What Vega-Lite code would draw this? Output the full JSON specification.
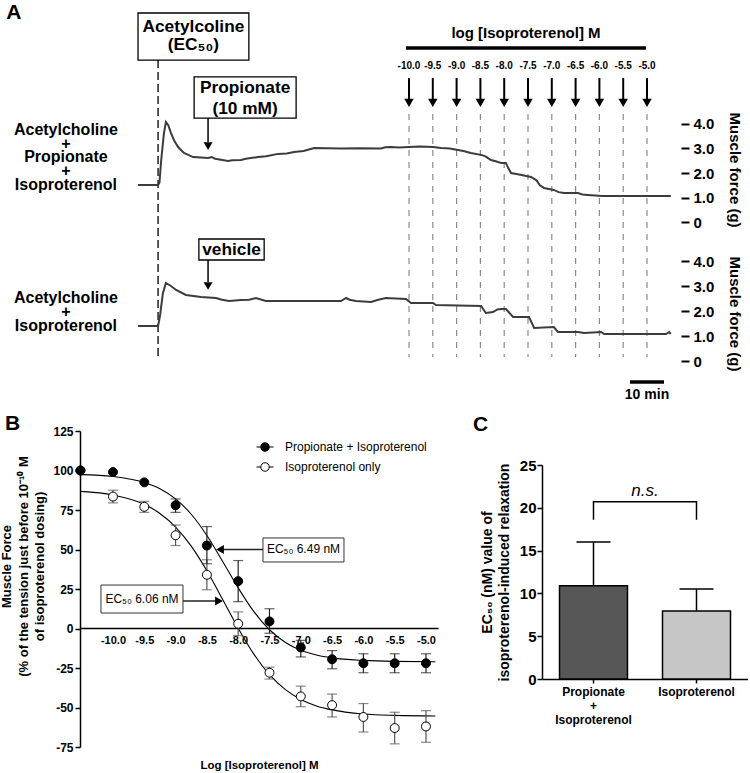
{
  "$schema": "https://vega.github.io/schema/vega-lite/v6.json",
  "padding": 0,
  "background": "white",
  "config": {
    "font": "Liberation Sans",
    "view": {"stroke": null},
    "locale": {"number": {"decimal": ".", "thousands": ",", "grouping": [3], "currency": ["$", ""], "minus": "-"}},
    "axis": {"grid": false, "labelOverlap": false, "labelColor": "black", "titleColor": "black", "domainColor": "black", "tickColor": "black", "labelFont": "Liberation Sans", "titleFont": "Liberation Sans"},
    "legend": {"labelFont": "Liberation Sans", "labelColor": "black"},
    "text": {"font": "Liberation Sans", "color": "black"},
    "title": {"font": "Liberation Sans", "color": "black"}
  },
  "datasets": {
    "trace1": [
      {"t":40.3,"g":1.51},{"t":46.2,"g":1.51},{"t":46.6,"g":1.6},{"t":47.1,"g":2.5},{"t":47.9,"g":3.6},{"t":48.5,"g":4.08},{"t":49.2,"g":3.95},{"t":50.0,"g":3.63},{"t":51.0,"g":3.3},{"t":52.1,"g":3.06},{"t":53.8,"g":2.82},{"t":56.5,"g":2.65},{"t":60.9,"g":2.61},{"t":62,"g":2.65},{"t":63,"g":2.58},{"t":66.8,"g":2.49},{"t":68,"g":2.52},{"t":70.6,"g":2.53},{"t":72,"g":2.58},{"t":75.6,"g":2.65},{"t":78,"g":2.68},{"t":81.5,"g":2.78},{"t":84,"g":2.8},{"t":86.2,"g":2.86},{"t":89,"g":2.9},{"t":92.1,"g":3.02},{"t":100,"g":3.0},{"t":105,"g":3.01},{"t":111.8,"g":3.0},{"t":113,"g":3.05},{"t":114.7,"g":3.06},{"t":117,"g":3.04},{"t":120,"g":3.06},{"t":123,"g":3.08},{"t":127.1,"g":3.06},{"t":129.4,"g":3.02},{"t":132,"g":3.0},{"t":134.4,"g":2.94},{"t":136,"g":2.9},{"t":138.2,"g":2.82},{"t":141.5,"g":2.73},{"t":142.5,"g":2.68},{"t":144.1,"g":2.53},{"t":145.5,"g":2.48},{"t":147.1,"g":2.41},{"t":148.5,"g":2.41},{"t":149.2,"g":2.2},{"t":150,"g":2.0},{"t":152,"g":1.95},{"t":155.9,"g":1.84},{"t":157.5,"g":1.7},{"t":158.5,"g":1.5},{"t":159.7,"g":1.39},{"t":162.6,"g":1.31},{"t":164,"g":1.22},{"t":165.6,"g":1.18},{"t":169.7,"g":1.18},{"t":171,"g":1.12},{"t":172.6,"g":1.1},{"t":176.8,"g":1.06},{"t":197,"g":1.06}
    ],
    "trace2": [
      {"t":40.3,"g":1.4},{"t":46.2,"g":1.4},{"t":46.8,"g":1.84},{"t":47.6,"g":2.7},{"t":48.5,"g":3.12},{"t":50,"g":3.0},{"t":51.5,"g":2.84},{"t":54.4,"g":2.64},{"t":58.8,"g":2.56},{"t":63.2,"g":2.52},{"t":65,"g":2.45},{"t":67.1,"g":2.4},{"t":70.6,"g":2.44},{"t":73,"g":2.45},{"t":75,"g":2.52},{"t":77.9,"g":2.4},{"t":100,"g":2.4},{"t":101.5,"g":2.52},{"t":102.5,"g":2.45},{"t":104.4,"g":2.4},{"t":108.8,"g":2.36},{"t":111,"g":2.45},{"t":113.2,"g":2.52},{"t":119.1,"g":2.48},{"t":120.6,"g":2.32},{"t":127.1,"g":2.32},{"t":127.9,"g":2.24},{"t":141.2,"g":2.2},{"t":142.6,"g":1.92},{"t":144.7,"g":1.96},{"t":146,"g":2.06},{"t":147.1,"g":2.08},{"t":148.5,"g":2.08},{"t":150.6,"g":1.76},{"t":155.3,"g":1.76},{"t":156.8,"g":1.32},{"t":162.6,"g":1.36},{"t":163.8,"g":1.16},{"t":169.7,"g":1.16},{"t":171.5,"g":1.12},{"t":176.5,"g":1.16},{"t":177.4,"g":1.08},{"t":195.6,"g":1.08},{"t":196.5,"g":1.16},{"t":197,"g":1.08}
    ],
    "doses": [
      {"t":120,"lab":"-10.0"},{"t":127,"lab":"-9.5"},{"t":134,"lab":"-9.0"},{"t":141,"lab":"-8.5"},{"t":148,"lab":"-8.0"},{"t":155,"lab":"-7.5"},{"t":162,"lab":"-7.0"},{"t":169,"lab":"-6.5"},{"t":176,"lab":"-6.0"},{"t":183,"lab":"-5.5"},{"t":190,"lab":"-5.0"}
    ],
    "pts": [
      {"series":"Isoproterenol only","x":-10.52,"y":100,"lo":100,"hi":100},
      {"series":"Isoproterenol only","x":-10.0,"y":83.5,"lo":79.5,"hi":87.5},
      {"series":"Isoproterenol only","x":-9.5,"y":77,"lo":73.5,"hi":80.5},
      {"series":"Isoproterenol only","x":-9.0,"y":59,"lo":52.5,"hi":65.5},
      {"series":"Isoproterenol only","x":-8.5,"y":34,"lo":24.5,"hi":43.5},
      {"series":"Isoproterenol only","x":-8.0,"y":3,"lo":-4.5,"hi":10.5},
      {"series":"Isoproterenol only","x":-7.5,"y":-28,"lo":-32,"hi":-24.5},
      {"series":"Isoproterenol only","x":-7.0,"y":-43,"lo":-49.5,"hi":-36.5},
      {"series":"Isoproterenol only","x":-6.5,"y":-48.5,"lo":-56,"hi":-41.5},
      {"series":"Isoproterenol only","x":-6.0,"y":-56,"lo":-65.5,"hi":-47.5},
      {"series":"Isoproterenol only","x":-5.5,"y":-63,"lo":-73,"hi":-53},
      {"series":"Isoproterenol only","x":-5.0,"y":-62,"lo":-72,"hi":-52},
      {"series":"Propionate + Isoproterenol","x":-10.52,"y":100,"lo":100,"hi":100},
      {"series":"Propionate + Isoproterenol","x":-10.0,"y":99,"lo":99,"hi":99},
      {"series":"Propionate + Isoproterenol","x":-9.5,"y":92.5,"lo":92.5,"hi":92.5},
      {"series":"Propionate + Isoproterenol","x":-9.0,"y":78,"lo":73.5,"hi":82},
      {"series":"Propionate + Isoproterenol","x":-8.5,"y":52.5,"lo":41,"hi":64.5},
      {"series":"Propionate + Isoproterenol","x":-8.0,"y":30,"lo":17,"hi":43},
      {"series":"Propionate + Isoproterenol","x":-7.5,"y":4.5,"lo":-3,"hi":12.5},
      {"series":"Propionate + Isoproterenol","x":-7.0,"y":-12,"lo":-18,"hi":-7.5},
      {"series":"Propionate + Isoproterenol","x":-6.5,"y":-19.5,"lo":-25.5,"hi":-14},
      {"series":"Propionate + Isoproterenol","x":-6.0,"y":-22,"lo":-28,"hi":-16},
      {"series":"Propionate + Isoproterenol","x":-5.5,"y":-22,"lo":-28,"hi":-16},
      {"series":"Propionate + Isoproterenol","x":-5.0,"y":-22,"lo":-28,"hi":-16}
    ],
    "fit": [
      {"series":"P","x":-10.52,"y":97.4},{"series":"P","x":-10.0,"y":96.2},{"series":"P","x":-9.5,"y":92.4},{"series":"P","x":-9.25,"y":88.5},{"series":"P","x":-9.0,"y":82.0},{"series":"P","x":-8.75,"y":72.3},{"series":"P","x":-8.5,"y":58.9},{"series":"P","x":-8.25,"y":42.6},{"series":"P","x":-8.0,"y":25.7},{"series":"P","x":-7.75,"y":10.7},{"series":"P","x":-7.5,"y":-0.8},{"series":"P","x":-7.25,"y":-8.7},{"series":"P","x":-7.0,"y":-13.8},{"series":"P","x":-6.75,"y":-16.8},{"series":"P","x":-6.5,"y":-18.6},{"series":"P","x":-6.0,"y":-20.2},{"series":"P","x":-5.5,"y":-20.8},{"series":"P","x":-4.85,"y":-21.0},
      {"series":"I","x":-10.52,"y":86.8},{"series":"I","x":-10.0,"y":84.5},{"series":"I","x":-9.5,"y":78.6},{"series":"I","x":-9.25,"y":72.8},{"series":"I","x":-9.0,"y":64.2},{"series":"I","x":-8.75,"y":52.1},{"series":"I","x":-8.5,"y":36.5},{"series":"I","x":-8.25,"y":18.5},{"series":"I","x":-8.0,"y":0.2},{"series":"I","x":-7.75,"y":-16.2},{"series":"I","x":-7.5,"y":-29.2},{"series":"I","x":-7.25,"y":-38.5},{"series":"I","x":-7.0,"y":-44.9},{"series":"I","x":-6.75,"y":-49.0},{"series":"I","x":-6.5,"y":-51.5},{"series":"I","x":-6.0,"y":-54.1},{"series":"I","x":-5.5,"y":-55.0},{"series":"I","x":-4.85,"y":-55.4}
    ],
    "bars": [
      {"cat":"Propionate + Isoproterenol","v":10.9,"hi":16.0},
      {"cat":"Isoproterenol","v":7.95,"hi":10.5}
    ],
    "bracket": [
      {"cat":"Propionate + Isoproterenol","v":18.6,"o":1},
      {"cat":"Propionate + Isoproterenol","v":20.7,"o":2},
      {"cat":"Isoproterenol","v":20.7,"o":3},
      {"cat":"Isoproterenol","v":18.6,"o":4}
    ]
  },
  "spacing": 31,
  "bounds": "flush",
  "resolve": {"scale": {"color": "independent", "fill": "independent"}, "legend": {"color": "independent", "fill": "independent"}},
  "vconcat": [
    {
      "width": 680,
      "height": 400,
      "resolve": {"scale": {"y": "independent"}},
      "layer": [
        {
          "layer": [
            {
              "data": {"name": "doses"},
              "mark": {"type": "rule", "color": "#8a8a8a", "strokeWidth": 1.2, "strokeDash": [6, 6]},
              "encoding": {
                "x": {"field": "t", "type": "quantitative", "axis": null},
                "y": {"datum": 4.41},
                "y2": {"datum": -5.51}
              }
            },
            {
              "data": {"values": [{"t": 46.2, "g": 6.61, "g2": -5.51}]},
              "mark": {"type": "rule", "color": "#222222", "strokeWidth": 1.5, "strokeDash": [8, 4]},
              "encoding": {
                "x": {"field": "t", "type": "quantitative", "axis": null},
                "y": {"field": "g", "type": "quantitative", "title": null},
                "y2": {"field": "g2"}
              }
            },
            {
              "data": {"name": "trace1"},
              "mark": {"type": "line", "color": "#3c3c3c", "strokeWidth": 2},
              "encoding": {
                "x": {"field": "t", "type": "quantitative", "scale": {"domain": [0, 200], "nice": false, "zero": false}, "axis": null},
                "y": {"field": "g", "type": "quantitative", "scale": {"domain": [-7.265, 9.061], "nice": false, "zero": false},
                  "axis": {"orient": "right", "values": [0, 1, 2, 3, 4], "labelExpr": "datum.value === 0 ? '0' : format(datum.value, '.1f')", "domain": false, "tickSize": 8, "tickWidth": 2, "labelFontSize": 15, "labelFontWeight": "bold", "labelPadding": 4, "title": null}}
              }
            },
            {
              "data": {"values": [{"t1": 40.3, "t2": 72.9, "g1": 8.53, "g2": 6.61}, {"t1": 56.8, "t2": 86.8, "g1": 5.92, "g2": 4.24}]},
              "mark": {"type": "rect", "fill": "white", "stroke": "black", "strokeWidth": 1.3},
              "encoding": {
                "x": {"field": "t1", "type": "quantitative", "axis": null},
                "x2": {"field": "t2"},
                "y": {"field": "g1", "type": "quantitative", "title": null},
                "y2": {"field": "g2"}
              }
            },
            {
              "data": {"values": [{"t": 56.6, "g": 7.96, "s": "Acetylcoline"}, {"t": 56.6, "g": 7.24, "s": "(EC₅₀)"}, {"t": 71.8, "g": 5.47, "s": "Propionate"}, {"t": 71.8, "g": 4.61, "s": "(10 mM)"}]},
              "mark": {"type": "text", "fontSize": 17.3, "fontWeight": "bold"},
              "encoding": {
                "x": {"field": "t", "type": "quantitative", "axis": null},
                "y": {"field": "g", "type": "quantitative", "title": null},
                "text": {"field": "s"}
              }
            },
            {
              "data": {"name": "doses"},
              "mark": {"type": "rule", "color": "black", "strokeWidth": 2},
              "encoding": {
                "x": {"field": "t", "type": "quantitative", "axis": null},
                "y": {"datum": 5.88},
                "y2": {"datum": 4.98}
              }
            },
            {
              "data": {"name": "doses"},
              "mark": {"type": "point", "shape": "triangle-down", "filled": true, "color": "black", "opacity": 1, "size": 90},
              "encoding": {
                "x": {"field": "t", "type": "quantitative", "axis": null},
                "y": {"datum": 4.86}
              }
            },
            {
              "data": {"name": "doses"},
              "mark": {"type": "text", "fontSize": 10, "fontWeight": "bold"},
              "encoding": {
                "x": {"field": "t", "type": "quantitative", "axis": null},
                "y": {"datum": 6.37},
                "text": {"field": "lab"}
              }
            },
            {
              "data": {"values": [{"t": 60.9, "g": 4.24, "g2": 3.27}]},
              "mark": {"type": "rule", "color": "black", "strokeWidth": 1.5},
              "encoding": {
                "x": {"field": "t", "type": "quantitative", "axis": null},
                "y": {"field": "g", "type": "quantitative", "title": null},
                "y2": {"field": "g2"}
              }
            },
            {
              "data": {"values": [{"t": 60.9, "g": 3.1}]},
              "mark": {"type": "point", "shape": "triangle-down", "filled": true, "color": "black", "opacity": 1, "size": 80},
              "encoding": {
                "x": {"field": "t", "type": "quantitative", "axis": null},
                "y": {"field": "g", "type": "quantitative", "title": null}
              }
            },
            {
              "data": {"values": [{"t": 119.1, "t2": 189.7, "g": 7.1}, {"t": 185, "t2": 195, "g": -6.53}]},
              "mark": {"type": "rule", "color": "black", "strokeWidth": 3.5},
              "encoding": {
                "x": {"field": "t", "type": "quantitative", "axis": null},
                "x2": {"field": "t2"},
                "y": {"field": "g", "type": "quantitative", "title": null}
              }
            },
            {
              "data": {"values": [{"t": 154.4, "g": 7.71, "s": "log [Isoproterenol] M"}]},
              "mark": {"type": "text", "fontSize": 15, "fontWeight": "bold"},
              "encoding": {
                "x": {"field": "t", "type": "quantitative", "axis": null},
                "y": {"field": "g", "type": "quantitative", "title": null},
                "text": {"field": "s"}
              }
            },
            {
              "data": {"values": [{"t": 190, "g": -7.06, "s": "10 min"}]},
              "mark": {"type": "text", "fontSize": 14, "fontWeight": "bold"},
              "encoding": {
                "x": {"field": "t", "type": "quantitative", "axis": null},
                "y": {"field": "g", "type": "quantitative", "title": null},
                "text": {"field": "s"}
              }
            },
            {
              "data": {"values": [{"t": 19.1, "g": 3.76, "s": "Acetylcholine"}, {"t": 19.1, "g": 3.18, "s": "+"}, {"t": 19.1, "g": 2.65, "s": "Propionate"}, {"t": 19.1, "g": 2.08, "s": "+"}, {"t": 19.1, "g": 1.51, "s": "Isoproterenol"}]},
              "mark": {"type": "text", "fontSize": 16, "fontWeight": "bold"},
              "encoding": {
                "x": {"field": "t", "type": "quantitative", "axis": null},
                "y": {"field": "g", "type": "quantitative", "title": null},
                "text": {"field": "s"}
              }
            },
            {
              "data": {"values": [{"t": 3.8, "g": 8.55, "s": "A"}]},
              "mark": {"type": "text", "fontSize": 21, "fontWeight": "bold"},
              "encoding": {
                "x": {"field": "t", "type": "quantitative", "axis": null},
                "y": {"field": "g", "type": "quantitative", "title": null},
                "text": {"field": "s"}
              }
            },
            {
              "data": {"values": [{"t": 216, "g": 2.12, "s": "Muscle force (g)"}]},
              "mark": {"type": "text", "fontSize": 15, "fontWeight": "bold", "angle": 90},
              "encoding": {
                "x": {"field": "t", "type": "quantitative", "axis": null},
                "y": {"field": "g", "type": "quantitative", "title": null},
                "text": {"field": "s"}
              }
            }
          ]
        },
        {
          "layer": [
            {
              "data": {"name": "trace2"},
              "mark": {"type": "line", "color": "#3c3c3c", "strokeWidth": 2},
              "encoding": {
                "x": {"field": "t", "type": "quantitative", "axis": null},
                "y": {"field": "g", "type": "quantitative", "scale": {"domain": [-1.56, 14.44], "nice": false, "zero": false},
                  "axis": {"orient": "right", "values": [0, 1, 2, 3, 4], "labelExpr": "datum.value === 0 ? '0' : format(datum.value, '.1f')", "domain": false, "tickSize": 8, "tickWidth": 2, "labelFontSize": 15, "labelFontWeight": "bold", "labelPadding": 4, "title": null}}
              }
            },
            {
              "data": {"values": [{"t1": 58.2, "t2": 77.4, "g1": 4.88, "g2": 4.04}]},
              "mark": {"type": "rect", "fill": "white", "stroke": "black", "strokeWidth": 1.3},
              "encoding": {
                "x": {"field": "t1", "type": "quantitative", "axis": null},
                "x2": {"field": "t2"},
                "y": {"field": "g1", "type": "quantitative", "title": null},
                "y2": {"field": "g2"}
              }
            },
            {
              "data": {"values": [{"t": 67.8, "g": 4.44, "s": "vehicle"}]},
              "mark": {"type": "text", "fontSize": 17.3, "fontWeight": "bold"},
              "encoding": {
                "x": {"field": "t", "type": "quantitative", "axis": null},
                "y": {"field": "g", "type": "quantitative", "title": null},
                "text": {"field": "s"}
              }
            },
            {
              "data": {"values": [{"t": 60.9, "g": 4.04, "g2": 3.16}]},
              "mark": {"type": "rule", "color": "black", "strokeWidth": 1.5},
              "encoding": {
                "x": {"field": "t", "type": "quantitative", "axis": null},
                "y": {"field": "g", "type": "quantitative", "title": null},
                "y2": {"field": "g2"}
              }
            },
            {
              "data": {"values": [{"t": 60.9, "g": 3.0}]},
              "mark": {"type": "point", "shape": "triangle-down", "filled": true, "color": "black", "opacity": 1, "size": 80},
              "encoding": {
                "x": {"field": "t", "type": "quantitative", "axis": null},
                "y": {"field": "g", "type": "quantitative", "title": null}
              }
            },
            {
              "data": {"values": [{"t": 19.1, "g": 2.52, "s": "Acetylcholine"}, {"t": 19.1, "g": 1.96, "s": "+"}, {"t": 19.1, "g": 1.4, "s": "Isoproterenol"}]},
              "mark": {"type": "text", "fontSize": 16, "fontWeight": "bold"},
              "encoding": {
                "x": {"field": "t", "type": "quantitative", "axis": null},
                "y": {"field": "g", "type": "quantitative", "title": null},
                "text": {"field": "s"}
              }
            },
            {
              "data": {"values": [{"t": 216, "g": 1.88, "s": "Muscle force (g)"}]},
              "mark": {"type": "text", "fontSize": 15, "fontWeight": "bold", "angle": 90},
              "encoding": {
                "x": {"field": "t", "type": "quantitative", "axis": null},
                "y": {"field": "g", "type": "quantitative", "title": null},
                "text": {"field": "s"}
              }
            }
          ]
        }
      ]
    },
    {
      "spacing": 0,
      "bounds": "flush",
      "resolve": {"scale": {"color": "independent", "fill": "independent"}, "legend": {"color": "independent", "fill": "independent"}},
      "hconcat": [
        {"width": 79, "height": 316, "data": {"values": []}, "mark": "point"},
        {
          "width": 358,
          "height": 316,
          "title": {"text": "B", "anchor": "start", "frame": "group", "dx": -75, "offset": -26, "fontSize": 21, "fontWeight": "bold", "baseline": "alphabetic"},
          "resolve": {"axis": {"x": "independent", "y": "independent"}},
          "layer": [
            {
              "data": {"name": "fit"},
              "mark": {"type": "line", "color": "black", "strokeWidth": 1.1, "interpolate": "monotone"},
              "encoding": {
                "x": {"field": "x", "type": "quantitative", "scale": {"domain": [-10.527, -4.808], "nice": false, "zero": false},
                  "axis": {"orient": "bottom", "values": [-10, -9.5, -9, -8.5, -8, -7.5, -7, -6.5, -6, -5.5, -5], "format": ".1f", "offset": -119, "ticks": false, "domainWidth": 1.5, "labelFontSize": 11, "labelFontWeight": "bold", "labelPadding": 6, "labelOverlap": false, "labelFlush": false, "title": "Log [Isoproterenol] M", "titleFontSize": 11.5, "titleFontWeight": "bold", "titlePadding": 114}},
                "y": {"field": "y", "type": "quantitative", "scale": {"domain": [-75, 125], "nice": false, "zero": false},
                  "axis": {"orient": "left", "values": [-75, -50, -25, 0, 25, 50, 75, 100, 125], "tickSize": 5, "tickWidth": 1.5, "domainWidth": 1.5, "labelFontSize": 12, "labelFontWeight": "bold", "labelPadding": 2, "labelOverlap": false,
                    "title": ["Muscle Force", "(% of the tension just before 10⁻¹⁰ M", "of isoproterenol dosing)"], "titleFontSize": 13, "titleFontWeight": "bold", "titleLineHeight": 16.5, "titlePadding": 6, "titleY": 135}},
                "detail": {"field": "series"}
              }
            },
            {
              "data": {"name": "pts"},
              "transform": [{"filter": "datum.hi > datum.lo && datum.series == 'Isoproterenol only'"}],
              "mark": {"type": "errorbar", "ticks": {"size": 10}, "thickness": 1.2, "color": "#555555"},
              "encoding": {
                "x": {"field": "x", "type": "quantitative", "axis": null},
                "y": {"field": "lo", "type": "quantitative", "axis": null},
                "y2": {"field": "hi"}
              }
            },
            {
              "data": {"name": "pts"},
              "transform": [{"filter": "datum.hi > datum.lo && datum.series == 'Propionate + Isoproterenol'"}],
              "mark": {"type": "errorbar", "ticks": {"size": 10}, "thickness": 1.2, "color": "#222222"},
              "encoding": {
                "x": {"field": "x", "type": "quantitative", "axis": null},
                "y": {"field": "lo", "type": "quantitative", "axis": null},
                "y2": {"field": "hi"}
              }
            },
            {
              "data": {"name": "pts"},
              "mark": {"type": "point", "shape": "circle", "filled": true, "size": 80, "stroke": "black", "strokeWidth": 1, "opacity": 1},
              "encoding": {
                "x": {"field": "x", "type": "quantitative", "axis": null},
                "y": {"field": "y", "type": "quantitative", "axis": null},
                "fill": {"field": "series", "type": "nominal", "scale": {"domain": ["Propionate + Isoproterenol", "Isoproterenol only"], "range": ["black", "white"]},
                  "legend": {"orient": "none", "legendX": 176, "legendY": 7, "title": null, "symbolType": "M-1,0H-0.5M0.5,0H1M0.5,0A0.5,0.5,0,1,1,-0.5,0A0.5,0.5,0,1,1,0.5,0Z", "symbolSize": 289, "symbolStrokeColor": "black", "symbolStrokeWidth": 1, "labelFontSize": 12, "rowPadding": 4, "labelOffset": 11}}
              }
            },
            {
              "data": {"values": [{"x1": -7.604, "x2": -6.31, "y1": 57.3, "y2": 42.1}, {"x1": -10.192, "x2": -8.882, "y1": 27.5, "y2": 9.8}]},
              "mark": {"type": "rect", "fill": "white", "stroke": "#333333", "strokeWidth": 1},
              "encoding": {
                "x": {"field": "x1", "type": "quantitative", "axis": null},
                "x2": {"field": "x2"},
                "y": {"field": "y1", "type": "quantitative", "axis": null},
                "y2": {"field": "y2"}
              }
            },
            {
              "data": {"values": [{"x": -6.957, "y": 50.3, "s": "EC₅₀ 6.49 nM"}, {"x": -9.537, "y": 18.7, "s": "EC₅₀ 6.06 nM"}]},
              "mark": {"type": "text", "fontSize": 12},
              "encoding": {
                "x": {"field": "x", "type": "quantitative", "axis": null},
                "y": {"field": "y", "type": "quantitative", "axis": null},
                "text": {"field": "s"}
              }
            },
            {
              "data": {"values": [{"x": -7.604, "x2": -8.29, "y": 50}, {"x": -8.882, "x2": -8.307, "y": 17.4}]},
              "mark": {"type": "rule", "color": "#222222", "strokeWidth": 1.3},
              "encoding": {
                "x": {"field": "x", "type": "quantitative", "axis": null},
                "x2": {"field": "x2"},
                "y": {"field": "y", "type": "quantitative", "axis": null}
              }
            },
            {
              "data": {"values": [{"x": -8.29, "y": 50}]},
              "mark": {"type": "point", "shape": "triangle-left", "filled": true, "color": "black", "opacity": 1, "size": 80},
              "encoding": {
                "x": {"field": "x", "type": "quantitative", "axis": null},
                "y": {"field": "y", "type": "quantitative", "axis": null}
              }
            },
            {
              "data": {"values": [{"x": -8.307, "y": 17.4}]},
              "mark": {"type": "point", "shape": "triangle-right", "filled": true, "color": "black", "opacity": 1, "size": 80},
              "encoding": {
                "x": {"field": "x", "type": "quantitative", "axis": null},
                "y": {"field": "y", "type": "quantitative", "axis": null}
              }
            }
          ]
        },
        {"width": 104, "height": 316, "data": {"values": []}, "mark": "point"},
        {
          "spacing": 0,
          "bounds": "flush",
          "vconcat": [
            {"width": 206, "height": 34, "data": {"values": []}, "mark": "point"},
            {
              "width": 206,
              "height": 214,
              "title": {"text": "C", "anchor": "start", "frame": "group", "dx": -69, "offset": 6, "fontSize": 21, "fontWeight": "bold", "baseline": "alphabetic"},
              "resolve": {"axis": {"x": "independent", "y": "independent"}},
              "layer": [
                {
                  "data": {"name": "bars"},
                  "mark": {"type": "rule", "color": "black", "strokeWidth": 1.5},
                  "encoding": {
                    "x": {"field": "cat", "type": "nominal", "axis": null},
                    "y": {"field": "v", "type": "quantitative", "axis": null},
                    "y2": {"field": "hi"}
                  }
                },
                {
                  "data": {"name": "bars"},
                  "mark": {"type": "tick", "color": "black", "size": 34, "thickness": 1.5, "orient": "horizontal", "opacity": 1},
                  "encoding": {
                    "x": {"field": "cat", "type": "nominal", "axis": null},
                    "y": {"field": "hi", "type": "quantitative", "axis": null}
                  }
                },
                {
                  "data": {"name": "bars"},
                  "mark": {"type": "bar", "stroke": "black", "strokeWidth": 1.5},
                  "encoding": {
                    "x": {"field": "cat", "type": "nominal", "sort": null,
                      "scale": {"domain": ["Propionate + Isoproterenol", "Isoproterenol"], "paddingInner": 0.34, "paddingOuter": 0.17},
                      "axis": {"orient": "bottom", "title": null, "labelAngle": 0, "labelAlign": "center", "labelBaseline": "top", "labelFontSize": 12, "labelFontWeight": "bold", "labelExpr": "datum.value == 'Propionate + Isoproterenol' ? ['Propionate', '+', 'Isoproterenol'] : datum.value", "labelLineHeight": 14, "tickSize": 4, "tickWidth": 1.5, "domainWidth": 1.5, "labelPadding": 3}},
                    "y": {"field": "v", "type": "quantitative", "scale": {"domain": [0, 25], "nice": false, "zero": false},
                      "axis": {"orient": "left", "values": [0, 5, 10, 15, 20, 25], "tickSize": 5, "tickWidth": 1.5, "domainWidth": 1.5, "labelFontSize": 15, "labelFontWeight": "bold", "labelPadding": 1,
                        "title": ["EC₅₀ (nM) value of", "isoproterenol-induced relaxation"], "titleFontSize": 14, "titleFontWeight": "bold", "titleLineHeight": 17, "titlePadding": 8}},
                    "fill": {"field": "cat", "type": "nominal", "scale": {"domain": ["Propionate + Isoproterenol", "Isoproterenol"], "range": ["#575757", "#c6c6c6"]}, "legend": null}
                  }
                },
                {
                  "data": {"name": "bracket"},
                  "mark": {"type": "line", "color": "black", "strokeWidth": 1.5},
                  "encoding": {
                    "x": {"field": "cat", "type": "nominal", "axis": null},
                    "y": {"field": "v", "type": "quantitative", "axis": null},
                    "order": {"field": "o", "type": "quantitative"}
                  }
                },
                {
                  "data": {"values": [{"cat": "Propionate + Isoproterenol", "v": 21.96, "s": "n.s."}]},
                  "mark": {"type": "text", "fontSize": 17, "fontStyle": "italic", "dx": 51.5},
                  "encoding": {
                    "x": {"field": "cat", "type": "nominal", "axis": null},
                    "y": {"field": "v", "type": "quantitative", "axis": null},
                    "text": {"field": "s"}
                  }
                }
              ]
            }
          ]
        }
      ]
    }
  ]
}
